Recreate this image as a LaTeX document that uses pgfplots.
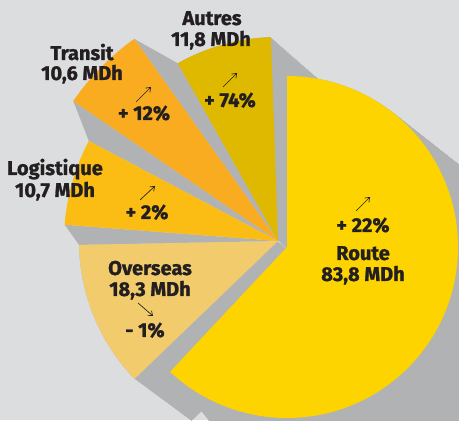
\documentclass[border=0pt]{standalone}
\usepackage{pgfplots}
\pgfplotsset{compat=1.18}
\usepackage{pgfplotstable}
\usepackage{fontspec}
\setmainfont{Fira Sans}[BoldFeatures={FakeBold=1.2}]
\usetikzlibrary{arrows.meta}

\definecolor{bg}{HTML}{DCDDDF}
\definecolor{sh}{HTML}{B1B2B4}
\definecolor{cRoute}{HTML}{FDD300}
\definecolor{cOver}{HTML}{F2CC6C}
\definecolor{cLog}{HTML}{FBBD14}
\definecolor{cTra}{HTML}{F9AC1F}
\definecolor{cAut}{HTML}{DFB800}
\definecolor{txt}{HTML}{231F20}

\pgfplotstableread{
label value
Route 83.8
Overseas 18.3
Logistique 10.7
Transit 10.6
Autres 11.8
}\piedata

\pgfplotstablegetelem{0}{value}\of\piedata \edef\vR{\pgfplotsretval}
\pgfplotstablegetelem{1}{value}\of\piedata \edef\vO{\pgfplotsretval}
\pgfplotstablegetelem{2}{value}\of\piedata \edef\vL{\pgfplotsretval}
\pgfplotstablegetelem{3}{value}\of\piedata \edef\vT{\pgfplotsretval}
\pgfplotstablegetelem{4}{value}\of\piedata \edef\vA{\pgfplotsretval}

\pgfmathsetmacro\tot{\vR+\vO+\vL+\vT+\vA}
\pgfmathsetmacro\sR{360*(\vR/\tot)}
\pgfmathsetmacro\sO{360*(\vO/\tot)}
\pgfmathsetmacro\sL{360*(\vL/\tot)}
\pgfmathsetmacro\sT{360*(\vT/\tot)}
\pgfmathsetmacro\sA{360*(\vA/\tot)}
% boundaries (clockwise from 90 deg)
\pgfmathsetmacro\bO{450-\sR}
\pgfmathsetmacro\bL{\bO-\sO}
\pgfmathsetmacro\bT{\bL-\sL}
\pgfmathsetmacro\bA{\bT-\sT}
% drawn angles (small gap between slices)
\pgfmathsetmacro\Olo{\bL+3}   \pgfmathsetmacro\Ohi{\bO-3}
\pgfmathsetmacro\Llo{\bT+2.5} \pgfmathsetmacro\Lhi{\bL-2.5}
\pgfmathsetmacro\Tlo{\bA+4}   \pgfmathsetmacro\Thi{\bT-4}
\pgfmathsetmacro\Alo{\bA-\sA+2} \pgfmathsetmacro\Ahi{\bA-2}
\pgfmathsetmacro\Rend{90-\sR}

% sector: colour, cx, cy, r, from, to
\newcommand\sector[6]{%
  \fill[#1] (axis cs:{#2},{#3}) -- (axis cs:{#2+(#4)*cos(#5)},{#3+(#4)*sin(#5)})
    arc[start angle={#5}, end angle={#6}, radius={(#4)*0.75pt}] -- cycle;}
% gap wedge: apex cx,cy ; r1,a1 ; r2,a2
\newcommand\gapw[6]{%
  \fill[sh] (axis cs:{#1},{#2}) -- (axis cs:{#1+(#3)*cos(#4)},{#2+(#3)*sin(#4)})
    -- (axis cs:{#1+(#5)*cos(#6)},{#2+(#5)*sin(#6)}) -- cycle;}

\begin{document}
\begin{tikzpicture}
\begin{axis}[
  x=0.75pt, y=0.75pt,
  xmin=0, xmax=459, ymin=0, ymax=420,
  hide axis, clip=true,
]
\fill[bg] (axis cs:0,0) rectangle (axis cs:459,420);
% shadows
\pgfplotsinvokeforeach{0,...,40}{\sector{sh}{287+72*#1/40}{173-72*#1/40}{171+12*#1/40}{90}{\Rend}}
\pgfplotsinvokeforeach{0,...,40}{\sector{sh}{278+57*#1/40}{179-42*#1/40}{199}{\Ohi}{\Olo}}
\pgfplotsinvokeforeach{0,...,40}{\sector{sh}{278+47*#1/40}{179-41*#1/40}{204}{\Ahi}{\Alo}}
\gapw{278}{179}{214}{\Lhi}{199}{\Olo}
\gapw{278}{179}{248}{\Thi}{214}{\Llo}
\gapw{278}{179}{204}{\Ahi}{248}{\Tlo}
% faces
\sector{cRoute}{287}{173}{171}{90}{\Rend}
\sector{cOver}{278}{179}{199}{\Ohi}{\Olo}
\sector{cLog}{278}{179}{214}{\Lhi}{\Llo}
\sector{cTra}{278}{179}{248}{\Thi}{\Tlo}
\sector{cAut}{278}{179}{204}{\Ahi}{\Alo}
% labels
\begin{scope}[every node/.style={anchor=base, text=txt, font=\bfseries\fontsize{15}{18}\selectfont, inner sep=0pt}]
\node at (axis cs:212,395) {Autres};
\node at (axis cs:211,374) {11,8 MDh};
\node at (axis cs:230,313) {+ 74\%};
\node at (axis cs:82,360) {Transit};
\node at (axis cs:82,340) {10,6 MDh};
\node at (axis cs:144,300) {+ 12\%};
\node at (axis cs:55,245) {Logistique};
\node at (axis cs:55,223) {10,7 MDh};
\node at (axis cs:147,201) {+ 2\%};
\node at (axis cs:150,145) {Overseas};
\node at (axis cs:150,124) {18,3 MDh};
\node at (axis cs:145,83) {- 1\%};
\node at (axis cs:363,188) {+ 22\%};
\node at (axis cs:363,160) {Route};
\node at (axis cs:363,139) {83,8 MDh};
\end{scope}
\begin{scope}[txt, line width=0.5pt, -{Straight Barb[length=3pt,width=4.5pt]}]
\draw (axis cs:223,333) -- (axis cs:237,347);
\draw (axis cs:136,318) -- (axis cs:151,333);
\draw (axis cs:140,220) -- (axis cs:155,234);
\draw (axis cs:138,117) -- (axis cs:153,104);
\draw (axis cs:356,209) -- (axis cs:370,223);
\end{scope}
\end{axis}
\end{tikzpicture}
\end{document}
